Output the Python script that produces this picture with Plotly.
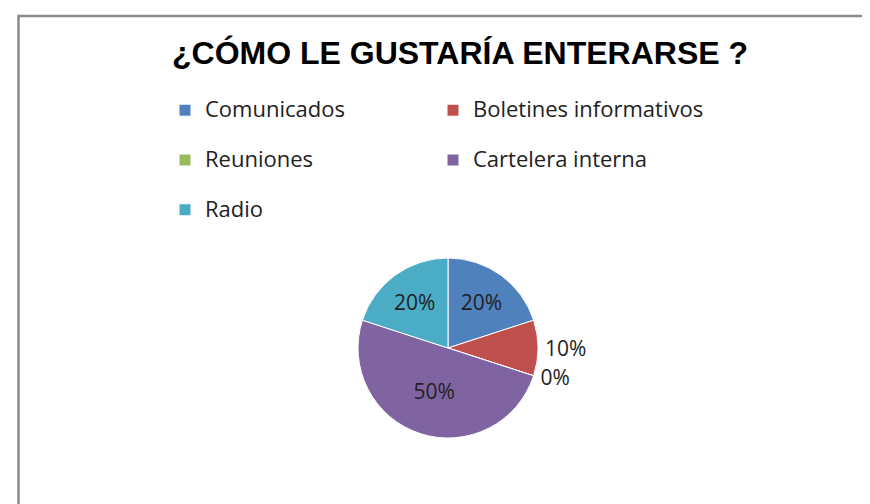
import plotly.graph_objects as go

categories = ["Comunicados", "Boletines informativos", "Reuniones", "Cartelera interna", "Radio"]
values = [20, 10, 0, 50, 20]
colors = ["#4F81BD", "#C0504D", "#9BBB59", "#8064A2", "#4BACC6"]
text_positions = ["inside", "outside", "outside", "inside", "inside"]
title_text = "¿CÓMO LE GUSTARÍA ENTERARSE ?"

W, H = 870, 504
MR = 120            # right margin, narrows the legend's wrap width
PW = W - MR         # plot-area width in px
COL = 268           # legend column spacing in px

legend_labels = [f"<span style='font-size:22px'>{c}</span><br> " for c in categories]

fig = go.Figure(
    go.Pie(
        labels=legend_labels,
        values=values,
        sort=False,
        direction="clockwise",
        rotation=0,
        marker=dict(colors=colors, line=dict(color="#ffffff", width=1)),
        textinfo="percent",
        texttemplate="%{percent:.0%}",
        textposition=text_positions,
        textfont=dict(family="Open Sans, Noto Sans, sans-serif", size=21, color="#222222"),
        insidetextorientation="horizontal",
        domain=dict(x=[(440 - 90) / PW, (440 + 90) / PW], y=[1 - 430 / H, 1 - 250 / H]),
        showlegend=True,
        hoverinfo="skip",
    )
)

fig.update_layout(
    width=W,
    height=H,
    margin=dict(l=0, r=MR, t=0, b=0),
    paper_bgcolor="#ffffff",
    plot_bgcolor="#ffffff",
    title=dict(
        text=title_text,
        x=452 / W,
        xanchor="center",
        y=1 - 45 / H,
        yanchor="middle",
        font=dict(family="Liberation Sans, Arial, sans-serif", size=32, color="#000000", weight="bold"),
    ),
    legend=dict(
        orientation="h",
        x=157 / PW,
        xanchor="left",
        y=1 - 84 / H,
        yanchor="top",
        valign="top",
        entrywidth=COL / PW,
        entrywidthmode="fraction",
        maxheight=400,
        font=dict(family="Open Sans, Noto Sans, sans-serif", size=18, color="#222222"),
        bgcolor="rgba(0,0,0,0)",
        traceorder="normal",
    ),
    shapes=[
        dict(
            type="rect",
            xref="paper",
            yref="paper",
            x0=10.5 / PW,
            x1=1.4,
            y0=-0.05,
            y1=1 - 8 / H,
            line=dict(color="#8a8a8a", width=2.5),
            fillcolor="rgba(0,0,0,0)",
            layer="below",
        )
    ],
)

fig.write_html("out.html")
